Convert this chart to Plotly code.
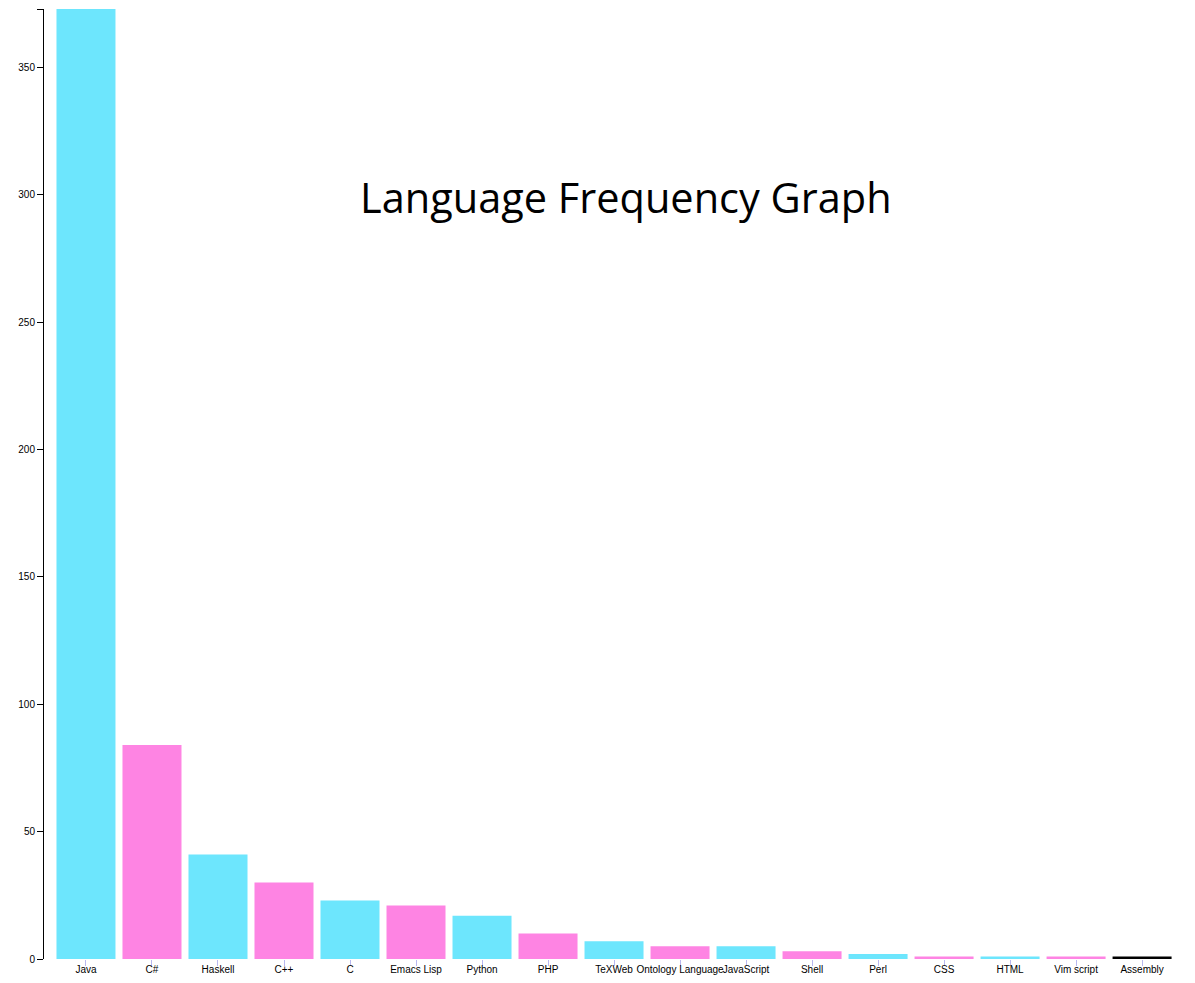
import plotly.graph_objects as go

languages = ['Java', 'C#', 'Haskell', 'C++', 'C', 'Emacs Lisp', 'Python', 'PHP', 'TeXWeb',
             'Ontology Language', 'JavaScript', 'Shell', 'Perl', 'CSS', 'HTML', 'Vim script', 'Assembly']
counts = [373, 84, 41, 30, 23, 21, 17, 10, 7, 5, 5, 3, 2, 1, 1, 1, 1]
bar_colors = ['#6de6fd', '#fe84e3'] * 8 + ['#000000']
y_ticks = [0, 50, 100, 150, 200, 250, 300, 350]
y_max = max(counts)

fig = go.Figure()
fig.add_trace(go.Bar(x=languages, y=counts, marker=dict(color=bar_colors, line=dict(width=0)),
                     hoverinfo='x+y'))

# page body keeps an 8px margin, so the figure is sized to fit inside it
fig.update_layout(
    width=1179, height=967,
    margin=dict(l=36, r=4, t=1, b=16),
    paper_bgcolor='white', plot_bgcolor='white',
    showlegend=False,
    bargap=0.106,
    font=dict(family='Liberation Sans, Arial, sans-serif', size=10, color='black'),
    xaxis=dict(range=[-0.636, 16.62], showline=False, showgrid=False, zeroline=False,
               ticks='outside', ticklen=6, tickcolor='#b8b8f0', tickangle=0,
               tickfont=dict(size=10), automargin=False, ticklabelstandoff=-5),
    yaxis=dict(range=[0, y_max], showline=True, linecolor='black', linewidth=1, showgrid=False,
               zeroline=False, ticks='outside', ticklen=6, tickcolor='black',
               tickvals=y_ticks + [y_max], ticktext=[str(v) for v in y_ticks] + [''],
               tickfont=dict(size=10), automargin=False),
    annotations=[dict(text='Language Frequency Graph', x=0.511, y=0.802, xref='paper', yref='paper',
                      xanchor='center', yanchor='middle', showarrow=False,
                      font=dict(family='Open Sans, sans-serif', size=41.5, color='black'))],
)
fig.write_html("out.html")
